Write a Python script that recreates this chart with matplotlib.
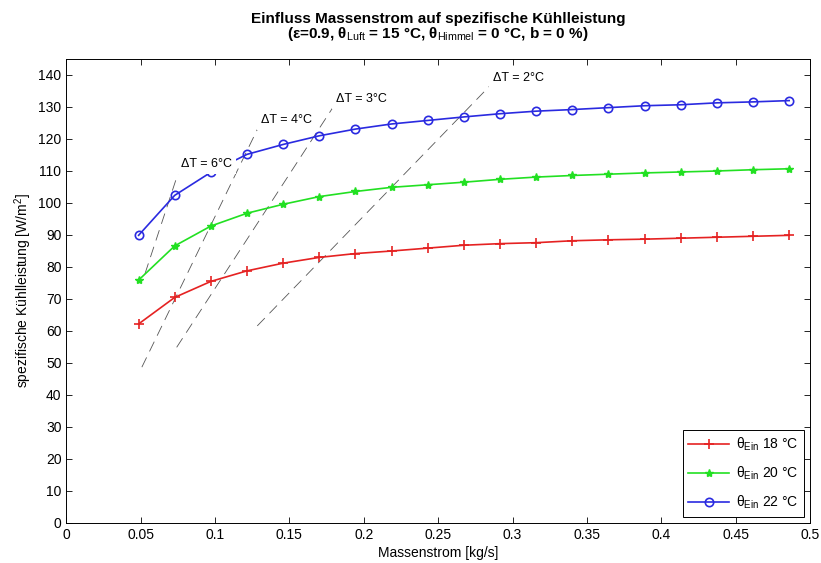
import matplotlib
matplotlib.use("Agg")
import matplotlib.pyplot as plt
from matplotlib.ticker import FormatStrFormatter

plt.rcParams['font.family'] = ['Liberation Sans', 'DejaVu Sans']
plt.rcParams['mathtext.fontset'] = 'custom'
plt.rcParams['mathtext.rm'] = 'Liberation Sans'
plt.rcParams['mathtext.it'] = 'Liberation Sans:italic'
plt.rcParams['mathtext.bf'] = 'Liberation Sans:bold'

# Massenstrom [kg/s]
massenstrom = [0.0486, 0.0729, 0.0972, 0.1215, 0.1458, 0.1701, 0.1944, 0.2187,
               0.2430, 0.2673, 0.2916, 0.3159, 0.3402, 0.3645, 0.3888, 0.4131,
               0.4374, 0.4617, 0.4860]

# spezifische Kuehlleistung [W/m2]
q_18 = [62.2, 70.5, 75.5, 78.8, 81.2, 83.0, 84.2, 85.0, 85.9, 86.8,
        87.3, 87.6, 88.2, 88.5, 88.7, 89.0, 89.3, 89.6, 89.9]
q_20 = [75.9, 86.6, 92.8, 96.8, 99.6, 102.0, 103.6, 104.9, 105.7, 106.5,
        107.4, 108.1, 108.6, 109.0, 109.4, 109.7, 110.0, 110.4, 110.7]
q_22 = [89.9, 102.4, 109.6, 115.2, 118.3, 121.0, 123.1, 124.7, 125.8, 126.9,
        127.9, 128.7, 129.2, 129.8, 130.4, 130.7, 131.3, 131.6, 132.0]

# Linien konstanter Temperaturdifferenz (Start/Ende)
dt_labels = ['ΔT = 6°C', 'ΔT = 4°C', 'ΔT = 3°C', 'ΔT = 2°C']
dt_x = [[0.0529, 0.0760], [0.0508, 0.1298], [0.0742, 0.1807], [0.1284, 0.2860]]
dt_y = [[77.9, 110.5], [48.7, 124.3], [54.9, 130.9], [61.6, 137.2]]

fig = plt.figure(figsize=(8.21, 5.63), dpi=100)
ax = fig.add_axes([66.3 / 821, 40 / 563, (810 - 66.3) / 821, (523 - 59) / 563])

for xs, ys, lab in zip(dt_x, dt_y, dt_labels):
    ax.plot(xs, ys, color='#555555', lw=0.6, linestyle=(0, (13, 8)), zorder=2)
    ax.annotate(lab, xy=(xs[1], ys[1]), xytext=(1, 4), textcoords='offset points',
                ha='left', va='center', fontsize=9, zorder=5,
                bbox=dict(facecolor='white', edgecolor='none', pad=3))

ax.plot(massenstrom, q_18, color='#e52222', lw=1.2, marker='+', ms=7, mew=1.2,
        label=r'θ$_{\mathrm{Ein}}$ 18 °C', zorder=3)
ax.plot(massenstrom, q_20, color='#22e022', lw=1.2, marker='*', ms=6, mew=1.0,
        label=r'θ$_{\mathrm{Ein}}$ 20 °C', zorder=3)
ax.plot(massenstrom, q_22, color='#2a2ae0', lw=1.2, marker='o', ms=6, mew=1.2,
        fillstyle='none', label=r'θ$_{\mathrm{Ein}}$ 22 °C', zorder=3)

ax.set_xlim(0, 0.5)
ax.set_ylim(0, 145)
ax.set_xticks([i * 0.05 for i in range(11)])
ax.set_yticks(range(0, 141, 10))
ax.xaxis.set_major_formatter(FormatStrFormatter('%g'))
ax.tick_params(direction='in', top=True, right=True, length=4.5, width=0.6,
               labelsize=10)
for sp in ax.spines.values():
    sp.set_linewidth(0.7)

ax.set_xlabel('Massenstrom [kg/s]', fontsize=10, labelpad=3)
ax.set_ylabel(r'spezifische Kühlleistung [W/m$^2$]', fontsize=10, labelpad=3)
ax.set_title('Einfluss Massenstrom auf spezifische Kühlleistung\n'
             r'(ε=0.9, θ$_{\mathrm{Luft}}$ = 15 °C, θ$_{\mathrm{Himmel}}$ = 0 °C, b = 0 %)',
             fontsize=11, fontweight='bold', linespacing=0.95, pad=15)

leg = ax.legend(loc='lower right', fontsize=10, fancybox=False, framealpha=1,
                edgecolor='black', handlelength=2.9, labelspacing=0.85,
                handletextpad=0.5, borderaxespad=0.45)
leg.get_frame().set_linewidth(0.7)

fig.savefig('out.png', dpi=100)
